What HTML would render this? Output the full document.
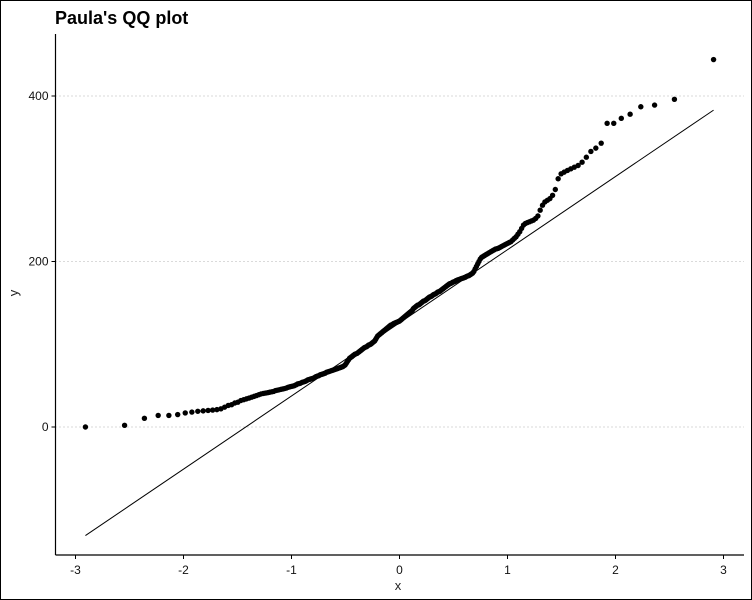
<!DOCTYPE html>
<html><head><meta charset="utf-8"><style>
html,body{margin:0;padding:0;background:#fff}
#wrap{position:relative;width:750px;height:598px;border:1px solid #000;overflow:hidden}
svg text{font-family:"Liberation Sans",Arial,sans-serif}
</style></head><body>
<div id="wrap">
<svg id="chart" width="750" height="598" xmlns="http://www.w3.org/2000/svg">
<text x="54" y="23" font-size="18" font-weight="bold" fill="#000">Paula's QQ plot</text>
<g id="grid"></g>
<g id="axes"></g>
<line id="refline" stroke="#000" stroke-width="1"/>
<g id="pts"></g>
<text x="397" y="589" font-size="13" text-anchor="middle" fill="#222">x</text>
<text x="0" y="0" font-size="13" text-anchor="middle" fill="#222" transform="translate(17,292) rotate(-90)">y</text>
</svg>
</div>
<script>
const sampleY = [0,2,10.5,14,14,15,17,18,
19,19.5,20,20.5,21,22,
24,26,27,29,30,32,
33,34,35,36,37,38,39,40,
40.5,41,41.5,42,42.5,43,44,44.5,45,45.5,46,46.5,47,48,
48.5,49,49.5,50,51,52,52.5,53,54,54.5,55,56,57,
57.5,58,58.5,59,60,61,61.5,62,63,63.5,64,64.5,65,66,
66.5,67,67.5,68,68.5,69,69.5,70,70.5,71,71.5,72,72.5,73,
74,75,77,79,81,83,84,85,86,87,88,88.5,89,90,
91,92,93,94,95,96,96.5,97,98,99,99.5,100,101,
102,103,104,106,108,110,111,112,113,114,115,116,117,118,
119,120,121,122,123,123.5,124,125,125.5,126,126.5,127,127.5,128,
129,130,131,132,133,134,135,136,137,138,139,140,141,143,
144,145,146,147,147.5,148,149,150,151,152,152.5,153,154,155,
156,157,157.5,158,159,160,160.5,161,162,163,163.5,164,165,
166,167,168,169,170,171,172,173,173.5,174,175,175.5,176,177,
177.5,178,178.5,179,179.5,180,180.5,181,182,182.5,183,184,185,186,
188,191,194,197,200,203,205,206,207,208,209,210,211,212,
213,214,215,215.5,216,217,218,219,220,221,222,223,224,
226,228,230,233,236,240,244,246,247,248,249,250,252,255,
262,268,272,274,276,280,287,300,
306,308,310,312,314,316,320,
326,333,337,343,367,367,373,378,387,389,396,444];
const xTicks = [-3,-2,-1,0,1,2,3];
const yTicks = [0,200,400];

const NS="http://www.w3.org/2000/svg";
const X0=54.5, X1=743, Y0=554, YT=33;
function sx(v){return 398.5+v*108;}
function sy(v){return 426-v*0.8275;}
function qnorm(p){
  const a=[-39.69683028665376,220.9460984245205,-275.9285104469687,138.357751867269,-30.66479806614716,2.506628277459239];
  const b=[-54.47609879822406,161.5858368580409,-155.6989798598866,66.80131188771972,-13.28068155288572];
  const c=[-0.007784894002430293,-0.3223964580411365,-2.400758277161838,-2.549732539343734,4.374664141464968,2.938163982698783];
  const d=[0.007784695709041462,0.3224671290700398,2.445134137142996,3.754408661907416];
  let q,r;
  if(p<0.02425){q=Math.sqrt(-2*Math.log(p));return (((((c[0]*q+c[1])*q+c[2])*q+c[3])*q+c[4])*q+c[5])/((((d[0]*q+d[1])*q+d[2])*q+d[3])*q+1);}
  if(p>1-0.02425){q=Math.sqrt(-2*Math.log(1-p));return -(((((c[0]*q+c[1])*q+c[2])*q+c[3])*q+c[4])*q+c[5])/((((d[0]*q+d[1])*q+d[2])*q+d[3])*q+1);}
  q=p-0.5;r=q*q;return (((((a[0]*r+a[1])*r+a[2])*r+a[3])*r+a[4])*r+a[5])*q/(((((b[0]*r+b[1])*r+b[2])*r+b[3])*r+b[4])*r+1);
}
function mk(tag,attrs,parent){const e=document.createElementNS(NS,tag);for(const k in attrs)e.setAttribute(k,attrs[k]);parent.appendChild(e);return e;}
const grid=document.getElementById('grid'), axes=document.getElementById('axes'), pts=document.getElementById('pts');
yTicks.forEach(t=>{
  const g=mk('line',{x1:X0,x2:X1,y1:sy(t),y2:sy(t),stroke:'#b4b4b4','stroke-width':1,'stroke-dasharray':'1 3'},grid);
  
  
  const tk=mk('line',{x1:X0-4,x2:X0,y1:sy(t),y2:sy(t),stroke:'#000'},axes);
  
  
  const lb=mk('text',{x:X0-7,y:sy(t)+4,'font-size':12,'text-anchor':'end',fill:'#111'},axes);
  lb.textContent=t;
  
  
});
xTicks.forEach(t=>{
  const tk=mk('line',{x1:sx(t),x2:sx(t),y1:Y0,y2:Y0+4,stroke:'#000'},axes);
  
  
  const lb=mk('text',{x:sx(t),y:Y0+19,'font-size':12,'text-anchor':'middle',fill:'#111'},axes);
  lb.textContent=t;
  
  
});
const ya=mk('line',{x1:X0,x2:X0,y1:YT,y2:Y0,stroke:'#000','stroke-width':1.2},axes);


const xa=mk('line',{x1:X0,x2:X1,y1:Y0,y2:Y0,stroke:'#000','stroke-width':1.2},axes);



const n=sampleY.length;
const sorted=sampleY.slice().sort((a,b)=>a-b);
const theo=sorted.map((v,i)=>qnorm((i+0.5)/n));
sorted.forEach((v,i)=>{
  const c=mk('circle',{cx:sx(theo[i]),cy:sy(v),r:2.7,fill:'#000'},pts);
  
  
});
function quant(arr,p){const h=(arr.length-1)*p,l=Math.floor(h);return arr[l]+(h-l)*(arr[Math.min(l+1,arr.length-1)]-arr[l]);}
const q1=quant(sorted,0.25),q3=quant(sorted,0.75),z=qnorm(0.75);
const slope=(q3-q1)/(2*z), icpt=(q1+q3)/2;
const rl=document.getElementById('refline');
const xa0=theo[0], xa1=theo[n-1];
rl.setAttribute('x1',sx(xa0));rl.setAttribute('y1',sy(icpt+slope*xa0));
rl.setAttribute('x2',sx(xa1));rl.setAttribute('y2',sy(icpt+slope*xa1));
</script>
</body></html>
